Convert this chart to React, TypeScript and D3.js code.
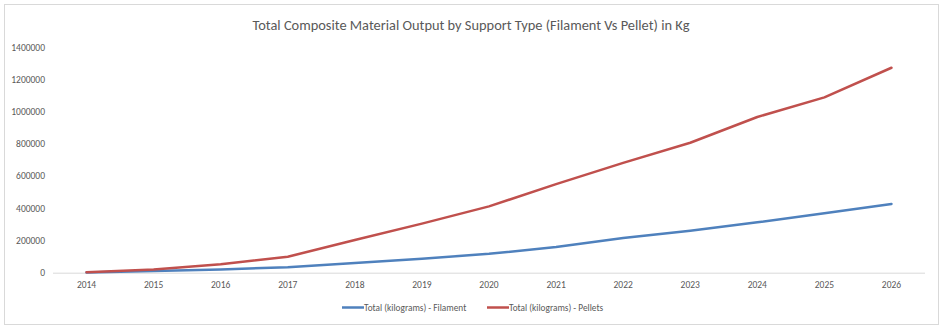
import React from "react";
import * as d3 from "d3";

const years = ["2014","2015","2016","2017","2018","2019","2020","2021","2022","2023","2024","2025","2026"];
const filament = [2000, 10000, 20000, 34000, 60000, 87000, 117000, 160000, 215000, 261000, 313000, 369000, 427000];
const pellets = [3000, 20000, 52000, 99000, 203000, 305000, 412000, 550000, 682000, 807000, 967000, 1089000, 1273000];
const yTicks = [0, 200000, 400000, 600000, 800000, 1000000, 1200000, 1400000];
const seriesNames = ["Total (kilograms) - Filament", "Total (kilograms) - Pellets"];
const colors = ["#4F81BD", "#C0504D"];

export default function App() {
  const W = 944, H = 331;
  const x = d3.scaleBand<string>().domain(years).range([53, 925]);
  const y = d3.scaleLinear().domain([0, 1400000]).range([272.7, 47.3]);
  const cx = (d: string) => (x(d) as number) + x.bandwidth() / 2;
  const line = d3.line<number>().x((_, i) => cx(years[i])).y((v) => y(v));
  const font = "Carlito, Calibri, 'Open Sans', sans-serif";
  return (
    <svg width={W} height={H} style={{ position: "absolute", left: 0, top: 0, fontFamily: font }}>
      <rect x={0} y={0} width={W} height={H} fill="#fff" />
      <rect x={4.5} y={4.5} width={934} height={320} fill="#fff" stroke="#d9d9d9" strokeWidth={1} />
      <text x={471} y={29.5} textAnchor="middle" fontSize={14.4} fill="#595959">
        Total Composite Material Output by Support Type (Filament Vs Pellet) in Kg
      </text>
      {yTicks.map((t) => (
        <text key={t} x={45} y={y(t)} dy="0.35em" textAnchor="end" fontSize={9.5} fill="#595959">{t}</text>
      ))}
      <line x1={53} x2={925} y1={y(0) + 0.5} y2={y(0) + 0.5} stroke="#d9d9d9" strokeWidth={1} />
      {years.map((yr) => (
        <text key={yr} x={cx(yr)} y={284.5} dy="0.35em" textAnchor="middle" fontSize={9.5} fill="#595959">{yr}</text>
      ))}
      {[filament, pellets].map((s, i) => (
        <path key={i} d={line(s) as string} fill="none" stroke={colors[i]} strokeWidth={2.5} strokeLinejoin="round" strokeLinecap="round" />
      ))}
      {seriesNames.map((n, i) => {
        const lx = i === 0 ? 342 : 487;
        return (
          <g key={n}>
            <line x1={lx} x2={lx + 22} y1={307.5} y2={307.5} stroke={colors[i]} strokeWidth={2.5} />
            <text x={lx + 22} y={307.5} dy="0.35em" fontSize={9.3} fill="#595959">{n}</text>
          </g>
        );
      })}
    </svg>
  );
}
